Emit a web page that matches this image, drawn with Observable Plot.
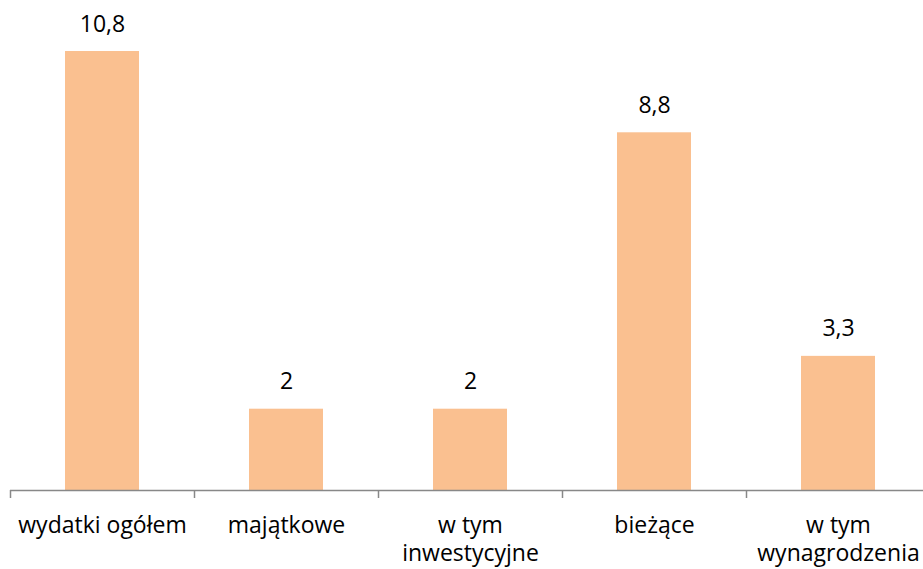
<!DOCTYPE html>
<html><head><meta charset="utf-8">
<script src="https://cdn.jsdelivr.net/npm/d3@7"></script>
<script src="https://cdn.jsdelivr.net/npm/@observablehq/plot@0.6"></script>
<style>body{margin:0;background:#fff;} svg{overflow:visible}</style>
</head><body><div id="chart"></div>
<script>
const categories = ["wydatki ogółem", "majątkowe", "w tym\ninwestycyjne", "bieżące", "w tym\nwynagrodzenia"];
const values = [10.8, 2, 2, 8.8, 3.3];
const valueLabels = ["10,8", "2", "2", "8,8", "3,3"];
const data = categories.map((c, i) => ({category: c, value: values[i], label: valueLabels[i]}));

const font = "'Open Sans', sans-serif";
const chart = Plot.plot({
  width: 923,
  height: 569,
  marginLeft: 10,
  marginRight: 0,
  marginTop: 51,
  marginBottom: 79,
  style: {fontFamily: font, fontSize: "23px", color: "#000", background: "#fff"},
  x: {domain: categories, range: [10, 930], paddingInner: 0.6, paddingOuter: 0.3, align: 0.5},
  y: {domain: [0, 10.8], range: [490, 51], axis: null},
  marks: [
    Plot.barY(data, {x: "category", y: "value", fill: "#FAC090"}),
    Plot.ruleY([0], {stroke: "#888888", strokeWidth: 1.5}),
    Plot.axisX({tickSize: 8, text: null, dx: -92, stroke: "#888888", strokeWidth: 1.5, label: null}),
    Plot.axisX({tickSize: 0, tickPadding: 23, fontSize: 23, lineHeight: 1.2, label: null, fill: "#000"}),
    Plot.text(data, {x: "category", y: "value", text: "label", lineAnchor: "bottom", dy: -20, fontSize: 23, fill: "#000"})
  ]
});
document.getElementById("chart").append(chart);
</script></body></html>
